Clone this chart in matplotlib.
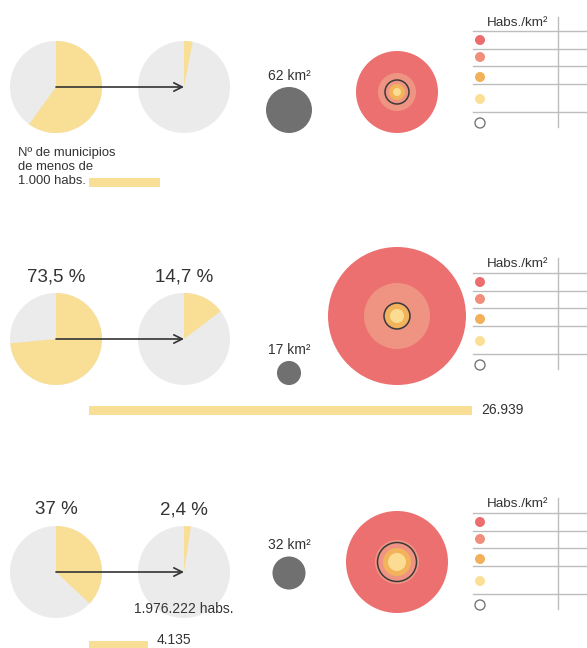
import matplotlib.pyplot as plt
from matplotlib.patches import Circle, Wedge, Rectangle

plt.rcParams['font.family'] = ['Liberation Sans', 'DejaVu Sans']

# ---------------------------
# Datos
# ---------------------------
share_before = [0.60, 0.735, 0.37]
share_after = [0.03, 0.147, 0.024]
label_before = [None, "73,5 %", "37 %"]
label_after = [None, "14,7 %", "2,4 %"]
area_km2 = [62, 17, 32]
area_labels = ["62 km²", "17 km²", "32 km²"]
bar_values = [4990, 26939, 4135]
bar_labels = [None, "26.939", "4.135"]
# radios de los anillos de densidad: exterior, medio, contorno, naranja, amarillo
rings = [
    [41, 19, 12, 8, 4],
    [69, 33, 13, 12, 7],
    [51, 22, 19.5, 14, 9],
]
habs_text = [None, None, "1.976.222 habs."]

# ---------------------------
# Estilo / posiciones
# ---------------------------
YELLOW = '#f9df95'
LGRAY = '#ebebeb'
RED = '#ec7070'
SALMON = '#ef9482'
ORANGE = '#f3b35b'
PALE = '#fbdc92'
DGRAY = '#707070'
TXT = '#333333'
LINE = '#bdbdbd'

pie_y = [87, 339, 572]
gray_y = [110, 373, 573]
ring_y = [92, 316, 562]
bar_y = [182, 410, 645]
legend_top = [17, 258, 498]
legend_rows = [[31, 49, 66, 84, 112], [273, 291, 308, 326, 354], [513, 531, 548, 566, 594]]
legend_dots = [[40, 57, 77, 99, 123], [282, 299, 319, 341, 365], [522, 539, 559, 581, 605]]
dot_colors = ['#ec6d6d', '#ef8f7b', '#f2b058', '#fbdf94', 'white']

fig = plt.figure(figsize=(5.87, 6.48), dpi=100)
ax = fig.add_axes([0, 0, 1, 1])
ax.set_xlim(0, 587)
ax.set_ylim(648, 0)
ax.axis('off')


def pie(cx, cy, frac, r=46):
    ax.add_patch(Circle((cx, cy), r, color=LGRAY, lw=0))
    ax.add_patch(Wedge((cx, cy), r, -90, -90 + 360 * frac, color=YELLOW, lw=0))


for i in range(3):
    py = pie_y[i]
    pie(56, py, share_before[i])
    pie(184, py, share_after[i])
    ax.annotate('', xy=(184, py), xytext=(56, py),
                arrowprops=dict(arrowstyle='->', color=TXT, lw=1.2,
                                shrinkA=0, shrinkB=0, mutation_scale=15))
    if label_before[i]:
        ax.text(56, py - 62, label_before[i], ha='center', va='center',
                fontsize=13.5, color=TXT)
        ax.text(184, py - 62, label_after[i], ha='center', va='center',
                fontsize=13.5, color=TXT)

    # superficie
    r = 2.92 * area_km2[i] ** 0.5
    ax.add_patch(Circle((289, gray_y[i]), r, color=DGRAY, lw=0))
    ax.text(289, gray_y[i] - r - 11, area_labels[i], ha='center', va='center',
            fontsize=10, color=TXT)

    # anillos de densidad
    ro, rs, rl, rn, ry = rings[i]
    cy = ring_y[i]
    ax.add_patch(Circle((397, cy), ro, color=RED, lw=0))
    ax.add_patch(Circle((397, cy), rs, color=SALMON, lw=0))
    ax.add_patch(Circle((397, cy), rn, color=ORANGE, lw=0))
    ax.add_patch(Circle((397, cy), ry, color=PALE, lw=0))
    ax.add_patch(Circle((397, cy), rl, fill=False, ec='#3a3a3a', lw=1.1))

    # tabla leyenda
    ax.text(518, legend_top[i] + 6, 'Habs./km²', ha='center', va='center',
            fontsize=9.7, color=TXT)
    ax.plot([558, 558], [legend_top[i], legend_rows[i][-1] + 15], color=LINE, lw=1)
    for yy in legend_rows[i]:
        ax.plot([473, 587], [yy, yy], color=LINE, lw=1)
    for yy, c in zip(legend_dots[i], dot_colors):
        ax.add_patch(Circle((480, yy), 5, fc=c, ec='#777777' if c == 'white' else 'none', lw=1))

    # barra de poblacion
    w = bar_values[i] * 0.01422
    ax.add_patch(Rectangle((89, bar_y[i] - 4.5), w, 9, color=YELLOW, lw=0))
    if bar_labels[i]:
        ax.text(89 + w + 9, min(bar_y[i], 640), bar_labels[i], ha='left', va='center',
                fontsize=10, color=TXT)
    if habs_text[i]:
        ax.text(184, py + 37, habs_text[i], ha='center', va='center',
                fontsize=10, color=TXT)

for yy, line in zip([153, 167, 181], ['Nº de municipios', 'de menos de', '1.000 habs.']):
    ax.text(18, yy, line, ha='left', va='center', fontsize=9.4, color=TXT)

fig.savefig('out.png', dpi=100)
